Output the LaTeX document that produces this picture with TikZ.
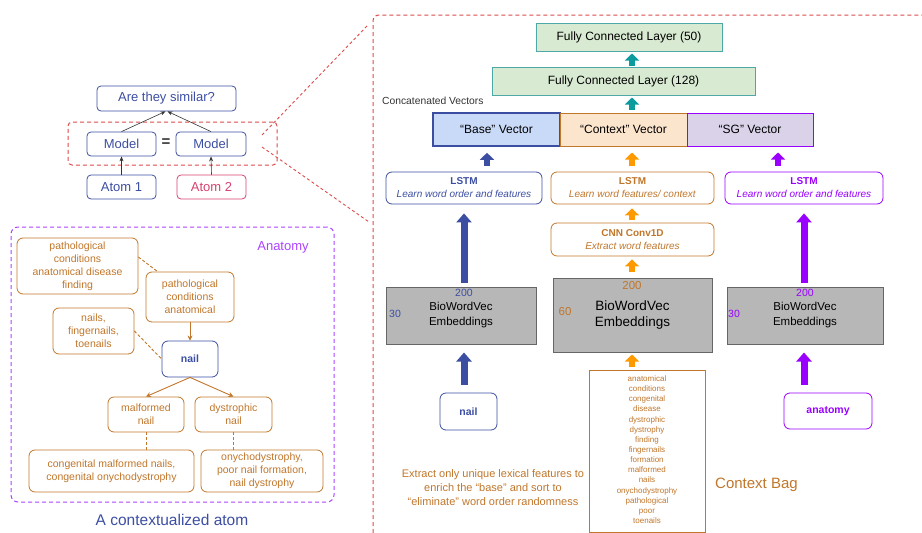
\documentclass[tikz,border=0pt]{standalone}
\usepackage{fontspec}
\setmainfont{Liberation Sans}
\usetikzlibrary{arrows.meta,calc}
\definecolor{cblue}{HTML}{3C4EA2}
\definecolor{cpink}{HTML}{D6426F}
\definecolor{cred}{HTML}{DD4B4B}
\definecolor{cbrown}{HTML}{C0762B}
\definecolor{corange}{HTML}{FF9900}
\definecolor{cpurple}{HTML}{9900FF}
\definecolor{cpurpleL}{HTML}{AA44FF}
\definecolor{cteal}{HTML}{0B9A9E}
\definecolor{ctealL}{HTML}{4FA8A8}
\definecolor{cgreen}{HTML}{D9EAD3}
\definecolor{cbasefill}{HTML}{C9DAF8}
\definecolor{cctxfill}{HTML}{FCE5CD}
\definecolor{csgfill}{HTML}{D9D2E9}
\definecolor{cgrayfill}{HTML}{B7B7B7}
\definecolor{cgrayline}{HTML}{666666}
\definecolor{cdark}{HTML}{333333}
\newcommand{\fsz}[1]{\fontsize{#1}{#1}\selectfont}
\begin{document}
\begin{tikzpicture}[x=1pt,y=-1pt,
  rbox/.style={draw, rounded corners=4pt, inner sep=0pt, align=center, line width=0.8pt},
  sbox/.style={draw, inner sep=0pt, align=center, line width=1pt},
  reddash/.style={draw=cred, line width=1pt, dash pattern=on 4pt off 3pt},
  thinarrow/.style={draw=cdark, line width=0.6pt, -{Stealth[length=5pt,width=4pt]}},
  brownarrow/.style={draw=cbrown, line width=0.9pt, -{Stealth[length=5pt,width=5pt]}},
  browndash/.style={draw=cbrown, line width=0.9pt, dash pattern=on 3pt off 2pt},
  bigarrow/.style={line width=7pt, -{Triangle[width=15pt,length=9pt]}},
  smallarrow/.style={line width=5.5pt, -{Triangle[width=14pt,length=7pt]}},
  lft/.style={text=cbrown, font=\fontsize{10.5}{13}\selectfont},
  lstm/.style={font=\fontsize{10}{13}\selectfont},
  emb/.style={sbox, fill=cgrayfill, draw=cgrayline, text=black},
  dimnum/.style={inner sep=0pt, font=\fontsize{10.5}{12}\selectfont}
]
\useasboundingbox (0,0) rectangle (922,533);

% ---------- top left ----------
\node[reddash, rounded corners=4pt, minimum width=209pt, minimum height=43pt, inner sep=0pt] (zsrc) at (172.5,143.5) {};
\node[rbox, draw=cblue, text=cblue, minimum width=139pt, minimum height=25pt, font=\fsz{13}] (q) at (166.5,98.5) {Are they similar?};
\node[rbox, draw=cblue, text=cblue, minimum width=69pt, minimum height=24pt, font=\fsz{13}] (m1) at (121.5,144) {Model};
\node[rbox, draw=cblue, text=cblue, minimum width=70pt, minimum height=24pt, font=\fsz{13}] (m2) at (211,144) {Model};
\node[inner sep=0pt, font=\bfseries\fsz{15}, text=cdark] (eq) at (166,143) {=};
\node[rbox, draw=cblue, text=cblue, minimum width=69pt, minimum height=24pt, font=\fsz{13}] (a1) at (121.5,187) {Atom 1};
\node[rbox, draw=cpink, text=cpink, minimum width=69pt, minimum height=24pt, font=\fsz{13}] (a2) at (211.5,187) {Atom 2};
\draw[thinarrow] (m1.north) -- ([xshift=-1pt]q.south);
\draw[thinarrow] (m2.north) -- ([xshift=1pt]q.south);
\draw[thinarrow] (a1.north) -- (m1.south);
\draw[thinarrow] (a2.north) -- (m2.south);

% zoom lines
\coordinate (z1) at (262,135);
\coordinate (z2) at (262,147);
\coordinate (zu) at (368,25);
\coordinate (zl) at (369,222);
\draw[reddash, line width=0.9pt, dash pattern=on 3pt off 2.5pt] (z1) -- (zu);
\draw[reddash, line width=0.9pt, dash pattern=on 3pt off 2.5pt] (z2) -- (zl);
\coordinate (rb1) at (373,533);
\coordinate (rb2) at (373,15);
\coordinate (rb3) at (922,15);
\draw[reddash, rounded corners=5pt] (rb1) -- (rb2) -- (rb3);

% ---------- bottom left ----------
\node[draw=cpurpleL, line width=1pt, dash pattern=on 4pt off 3pt, rounded corners=7pt, minimum width=323pt, minimum height=275pt, inner sep=0pt] (anabox) at (172.5,364.5) {};
\node[text=cpurpleL, font=\fsz{13}, inner sep=0pt] (anatitle) at (283,247) {Anatomy};
\node[rbox, draw=cbrown, lft, minimum width=121pt, minimum height=56pt, rounded corners=6pt] (A) at (77.5,266) {pathological\\conditions\\anatomical disease\\finding};
\node[rbox, draw=cbrown, lft, minimum width=88pt, minimum height=50pt, rounded corners=6pt] (B) at (190,297) {pathological\\conditions\\anatomical};
\node[rbox, draw=cbrown, lft, minimum width=81pt, minimum height=46pt, rounded corners=6pt] (C) at (93.5,331) {nails,\\fingernails,\\toenails};
\node[rbox, draw=cblue, text=cblue, minimum width=56pt, minimum height=36pt, rounded corners=6pt, font=\bfseries\fontsize{10.5}{13}\selectfont] (nailL) at (190,359) {nail};
\node[rbox, draw=cbrown, lft, minimum width=76pt, minimum height=35pt, rounded corners=6pt] (mal) at (146,414.5) {malformed\\nail};
\node[rbox, draw=cbrown, lft, minimum width=77pt, minimum height=35pt, rounded corners=6pt] (dys) at (233.5,414.5) {dystrophic\\nail};
\node[rbox, draw=cbrown, lft, minimum width=165pt, minimum height=42pt, rounded corners=6pt] (cong) at (111.5,471) {congenital malformed nails,\\congenital onychodystrophy};
\node[rbox, draw=cbrown, lft, minimum width=122pt, minimum height=42pt, rounded corners=6pt] (ony) at (262,471) {onychodystrophy,\\poor nail formation,\\nail dystrophy};
\draw[browndash] ([yshift=9pt]A.east) -- ([xshift=12pt]B.north west);
\draw[browndash] (C.east) -- (nailL.west);
\draw[brownarrow] (B.south) -- (nailL.north);
\draw[brownarrow] (nailL.south) -- (mal.north);
\draw[brownarrow] (nailL.south) -- (dys.north);
\draw[browndash] (mal.south) -- (mal.south |- cong.north);
\draw[browndash] (dys.south) -- (dys.south |- ony.north);
\node[text=cblue, font=\fsz{15.5}, inner sep=0pt] (ctitle) at (172,520) {A contextualized atom};

% ---------- right: top layers ----------
\node[sbox, fill=cgreen, draw=ctealL, minimum width=186pt, minimum height=28pt, font=\fsz{12}] (fc50) at (629,37) {Fully Connected Layer (50)};
\node[sbox, fill=cgreen, draw=ctealL, minimum width=263pt, minimum height=28pt, font=\fsz{12}] (fc128) at (623.5,81) {Fully Connected Layer (128)};
\coordinate (t1) at (632,110);
\coordinate (t2) at (632,66);
\draw[smallarrow, cteal] (t2) -- ([yshift=-2pt]t2 |- fc50.south);
\draw[smallarrow, cteal] (t1) -- ([yshift=-2pt]t1 |- fc128.south);
\node[anchor=west, inner sep=0pt, font=\fsz{10.3}, text=cdark] (concat) at (382,101) {Concatenated Vectors};
\node[sbox, fill=cbasefill, draw=cblue, line width=1.6pt, minimum width=127pt, minimum height=33pt, font=\fsz{12}] (base) at (496.5,129.5) {``Base'' Vector};
\node[sbox, fill=cctxfill, draw=cbrown, minimum width=127pt, minimum height=33pt, font=\fsz{12}] (ctx) at (623.5,129.5) {``Context'' Vector};
\node[sbox, fill=csgfill, draw=cpurple, minimum width=126pt, minimum height=33pt, font=\fsz{12}] (sg) at (750,129.5) {``SG'' Vector};

% ---------- LSTM row ----------
\node[rbox, draw=cblue, text=cblue, lstm, minimum width=156pt, minimum height=32pt, rounded corners=6pt] (lstmB) at (464,188) {\textbf{LSTM}\\\textit{Learn word order and features}};
\node[rbox, draw=cbrown, text=cbrown, lstm, minimum width=163pt, minimum height=32pt, rounded corners=6pt] (lstmO) at (632.5,188) {\textbf{LSTM}\\\textit{Learn word features/ context}};
\node[rbox, draw=cpurple, text=cpurple, lstm, minimum width=158pt, minimum height=32pt, rounded corners=6pt] (lstmP) at (804,188) {\textbf{LSTM}\\\textit{Learn word order and features}};
\coordinate (vb) at (487,166);
\coordinate (vo) at (632,166);
\coordinate (vp) at (778,166);
\draw[smallarrow, cblue] (vb) -- ([yshift=-6pt]vb |- base.south);
\draw[smallarrow, corange] (vo) -- ([yshift=-6pt]vo |- ctx.south);
\draw[smallarrow, cpurple] (vp) -- ([yshift=-6pt]vp |- sg.south);

\node[rbox, draw=cbrown, text=cbrown, lstm, minimum width=163pt, minimum height=33pt, rounded corners=6pt] (cnn) at (632.5,239.5) {\textbf{CNN Conv1D}\\\textit{Extract word features}};
\coordinate (co1) at (632,220);
\coordinate (co2) at (632,272);
\draw[smallarrow, corange] (co1) -- ([yshift=-4pt]co1 |- lstmO.south);
\draw[smallarrow, corange] (co2) -- ([yshift=-3pt]co2 |- cnn.south);

% ---------- embeddings ----------
\node[emb, minimum width=150pt, minimum height=57pt, font=\fontsize{11.5}{15}\selectfont] (embB) at (461,315.5) {BioWordVec\\Embeddings};
\node[emb, minimum width=159pt, minimum height=74pt, font=\fontsize{13.5}{15.5}\selectfont] (embO) at (632.5,315) {BioWordVec\\Embeddings};
\node[emb, minimum width=156pt, minimum height=57pt, font=\fontsize{11.5}{15}\selectfont] (embP) at (805,315.5) {BioWordVec\\Embeddings};
\node[dimnum, text=cblue] (nB1) at (464,293) {200};
\node[dimnum, text=cblue] (nB2) at (395,314) {30};
\node[dimnum, text=cbrown, font=\fontsize{11.5}{13}\selectfont] (nO1) at (632,286) {200};
\node[dimnum, text=cbrown, font=\fontsize{11.5}{13}\selectfont] (nO2) at (565,312) {60};
\node[dimnum, text=cpurple] (nP1) at (805,293) {200};
\node[dimnum, text=cpurple] (nP2) at (734,314) {30};
\draw[bigarrow, cblue] ([yshift=4pt]embB.north -| lstmB.south) -- ([yshift=-9pt]lstmB.south);
\draw[bigarrow, cpurple] ([yshift=4pt]embP.north -| lstmP.south) -- ([yshift=-9pt]lstmP.south);

% ---------- inputs ----------
\node[rbox, draw=cblue, text=cblue, minimum width=57pt, minimum height=37pt, rounded corners=6pt, font=\bfseries\fontsize{10.5}{13}\selectfont] (nailR) at (468.5,411.5) {nail};
\node[rbox, draw=cpurple, text=cpurple, minimum width=88pt, minimum height=36pt, rounded corners=6pt, font=\bfseries\fontsize{10.5}{13}\selectfont] (anaR) at (828,411) {anatomy};
\coordinate (ib) at (464,385);
\coordinate (ip) at (804,385);
\draw[bigarrow, cblue] (ib) -- ([yshift=-8pt]ib |- embB.south);
\draw[bigarrow, cpurple] (ip) -- ([yshift=-8pt]ip |- embP.south);

\node[sbox, draw=cbrown, line width=1pt, minimum width=116pt, minimum height=162pt] (bag) at (647,451) {};
\node[anchor=north, inner sep=0pt, align=center, text=cbrown, font=\fontsize{8}{10.14}\selectfont] (bagtext) at (647,375.5) {anatomical\\conditions\\congenital\\disease\\dystrophic\\dystrophy\\finding\\fingernails\\formation\\malformed\\nails\\onychodystrophy\\pathological\\poor\\toenails};
\coordinate (ibo) at (632,367);
\draw[smallarrow, corange] (ibo) -- ([yshift=-2pt]ibo |- embO.south);
\node[anchor=west, inner sep=0pt, text=cbrown, font=\fsz{15}] (cbag) at (715,485) {Context Bag};
\node[inner sep=0pt, align=center, text=cbrown, font=\fontsize{11}{14}\selectfont] (extract) at (493,488) {Extract only unique lexical features to\\enrich the ``base'' and sort to\\``eliminate'' word order randomness};
\end{tikzpicture}
\end{document}
